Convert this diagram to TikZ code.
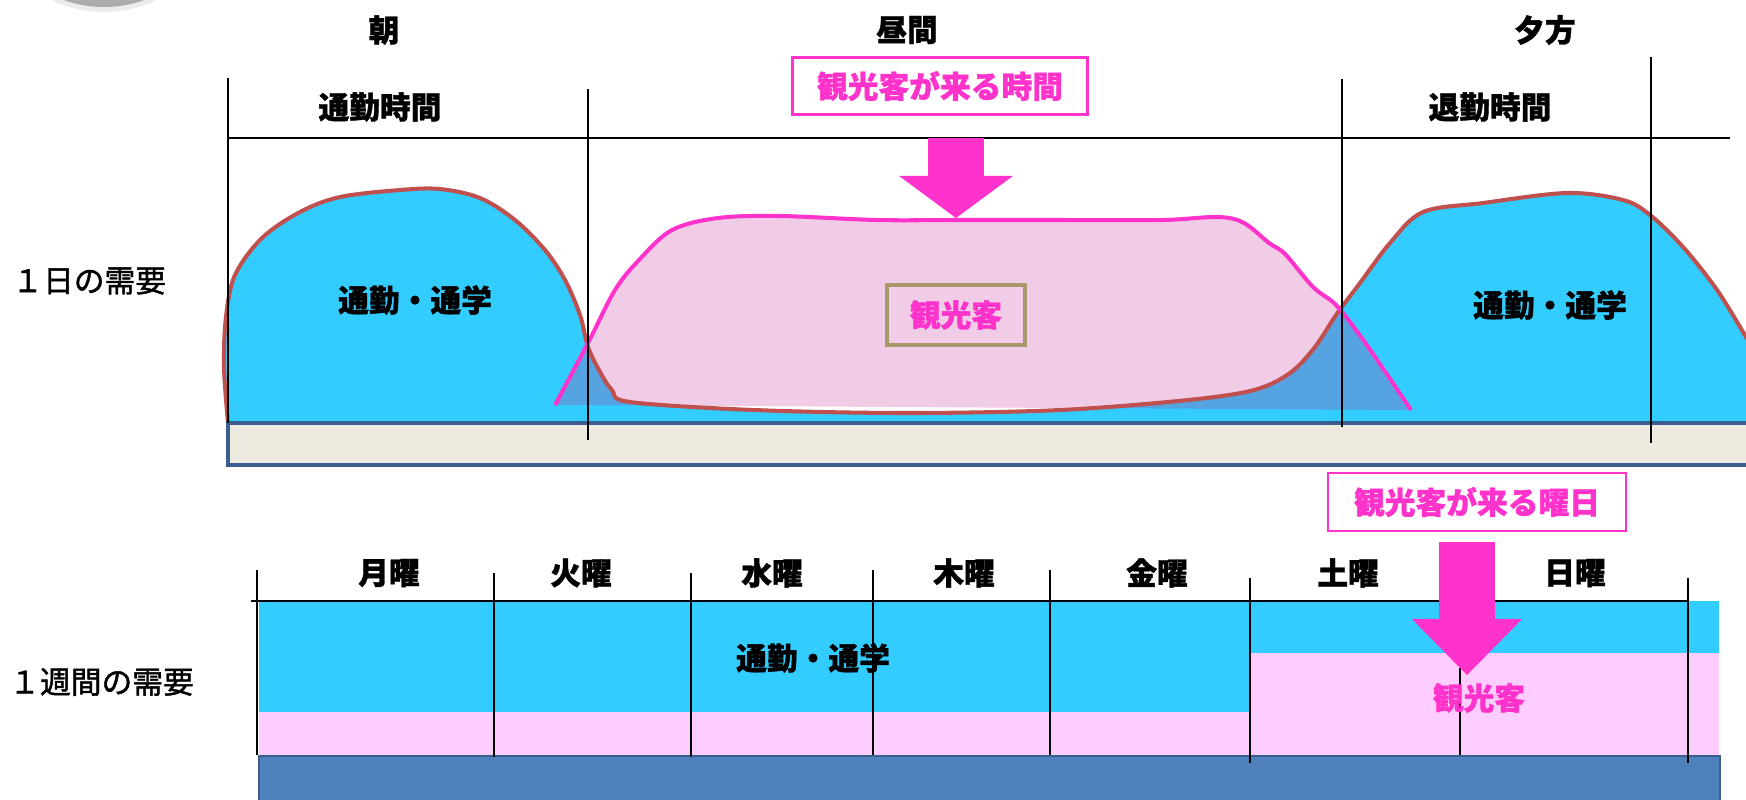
\documentclass[tikz,border=0pt]{standalone}
\usepackage{fontspec}
\usepackage{xcolor}
\usepackage{tikz}
\usetikzlibrary{
    positioning,
    calc,
    arrows.meta
}
\newfontfamily\jpfont{Noto Sans CJK JP}[BoldFeatures={FakeBold=1.2}]
\newfontfamily\jpside{Noto Sans CJK JP}[FakeBold=1.4]
\definecolor{skyblue}{HTML}{33CCFF}
\definecolor{midblue}{HTML}{55A3E0}
\definecolor{paleplum}{HTML}{F0CCE6}
\definecolor{hotpink}{HTML}{FF33CC}
\definecolor{brickred}{HTML}{C0504D}
\definecolor{barcream}{HTML}{EEEAE0}
\definecolor{barline}{HTML}{3A5F8F}
\definecolor{barblue}{HTML}{4F81BD}
\definecolor{khaki}{HTML}{A69868}
\definecolor{candy}{HTML}{FFCCFF}
\newcommand{\commutecurve}{plot[smooth, tension=0.55] coordinates {
    (228,423) (224,367) (226,317) (235,275) (262,238) (300,212) (340,197)
    (400,190) (440,189) (480,198) (515,220) (545,250) (565,280) (580,315)
    (588,347) (600,372) (612,390) (630,402) (754,410) (907,413) (1060,410)
    (1188,400) (1254,390) (1290,373) (1315,347) (1336,315) (1360,283)
    (1390,243) (1423,212) (1483,203) (1567,193) (1623,200) (1650,215)
    (1683,247) (1717,290) (1746,337) (1760,360)}}
\newcommand{\touristcurve}{plot[smooth, tension=0.55] coordinates {
    (555,405) (588,343) (615,290) (639,260) (672,230) (718,218) (780,216)
    (877,220) (958,220) (1060,220) (1162,220) (1218,217) (1244,223)
    (1269,243) (1285,254) (1313,287) (1336,305) (1361,337) (1386,373)
    (1411,410)}}
\tikzset{
  basic/.style = {
      font=\jpfont\bfseries\fontsize{17.5}{20}\selectfont,
      inner sep=0pt
  },
  heading/.style = {
      basic,
      text=black
  },
  side/.style = {
      font=\jpside\fontsize{17.5}{20}\selectfont,
      anchor=west,
      inner sep=0pt
  },
  tagbox/.style = {
      basic,
      draw=hotpink,
      line width=1.4pt,
      text=hotpink,
      minimum width=5.9cm,
      minimum height=1.14cm
  },
  guest/.style = {
      basic,
      text=hotpink
  },
  divider/.style = {
      black,
      line width=0.8pt
  },
  outline/.style = {
      line width=2.3pt,
      line join=round
  },
  bigarrow/.style = {
      hotpink,
      line width=31.5pt,
      -{Triangle[length=24pt, width=65pt, line width=0pt]}
  }
}

\begin{document}
\begin{tikzpicture}[x=0.02cm, y=-0.02cm, node distance=1.5cm]
    \useasboundingbox (0,0) rectangle (1746,799);
    % corner disc
    \fill[black!8] (104,-108) circle[radius=2.4cm];
    \fill[gray!65] (104,-112) circle[radius=2.38cm];

    % one day
    \fill[paleplum] \touristcurve -- cycle;
    \fill[skyblue] \commutecurve -- (1760,423) -- (228,423) -- cycle;
    \begin{scope}
        \clip \touristcurve -- cycle;
        \fill[midblue] \commutecurve -- (1760,423) -- (228,423) -- cycle;
    \end{scope}
    \draw[outline, brickred] \commutecurve;
    \draw[outline, hotpink] \touristcurve;
    \draw[barline, line width=2pt, fill=barcream] (228,423) rectangle (1770,465);

    \draw[divider] (228,78) -- (228,423);
    \draw[divider] (588,89) -- (588,440);
    \draw[divider] (1342,79) -- (1342,427);
    \draw[divider] (1651,57) -- (1651,443);
    \draw[divider] (228,138) -- (1730,138);

    \node[heading] (morning) at (384,30) {朝};
    \node[heading] (noon) at (907,30) {昼間};
    \node[heading] (evening) at (1545,30) {夕方};
    \node[heading] (rushin) at (380,107) {通勤時間};
    \node[heading] (rushout) at (1490,107) {退勤時間};
    \node[tagbox] (timetag) at (940,86) {観光客が来る時間};
    \coordinate (tipA) at (956,218);
    \node[tagbox, draw=khaki, line width=2.2pt, fill=paleplum,
          minimum width=2.76cm, minimum height=1.2cm,
          below=1.3cm of tipA] (guestA) {観光客};
    \node[heading] (commuteA) at (415,300) {通勤・通学};
    \node[heading] (commuteB) at (1550,305) {通勤・通学};
    \node[side] (perday) at (12,281) {１日の需要};

    % one week
    \fill[skyblue] (259,601) rectangle (1250,712);
    \fill[skyblue] (1250,601) rectangle (1719,653);
    \fill[candy] (259,712) rectangle (1250,756);
    \fill[candy] (1250,653) rectangle (1719,756);
    \draw[barline, line width=1.5pt, fill=barblue] (259,756) rectangle (1720,815);

    \draw[divider] (251,601) -- (1688,601);
    \draw[divider] (257,570) -- (257,755);
    \draw[divider] (494,573) -- (494,757);
    \draw[divider] (691,573) -- (691,757);
    \draw[divider] (873,570) -- (873,755);
    \draw[divider] (1050,570) -- (1050,755);
    \draw[divider] (1250,578) -- (1250,763);
    \draw[divider] (1460,668) -- (1460,755);
    \draw[divider] (1688,578) -- (1688,763);

    \node[heading] (mon) at (389,573) {月曜};
    \node[heading] (tue) at (581,573) {火曜};
    \node[heading] (wed) at (772,573) {水曜};
    \node[heading] (thu) at (964,573) {木曜};
    \node[heading] (fri) at (1157,573) {金曜};
    \node[heading] (sat) at (1348,573) {土曜};
    \node[heading] (sun) at (1575,573) {日曜};
    \node[heading] (commuteC) at (813,658) {通勤・通学};
    \node[guest] (guestB) at (1479,698) {観光客};
    \node[side] (perweek) at (9,682) {１週間の需要};
    \node[tagbox, minimum width=5.96cm, minimum height=1.16cm] (daytag) at (1477,502) {観光客が来る曜日};
    \coordinate (tipB) at (1467,675);

    % Arrows
    \draw[bigarrow] ($(timetag.south -| tipA)+(0,22)$) -- (tipA);
    \draw[bigarrow, -{Triangle[length=32pt, width=63pt, line width=0pt]}]
        ($(daytag.south -| tipB)+(0,10)$) -- (tipB);
\end{tikzpicture}
\end{document}
